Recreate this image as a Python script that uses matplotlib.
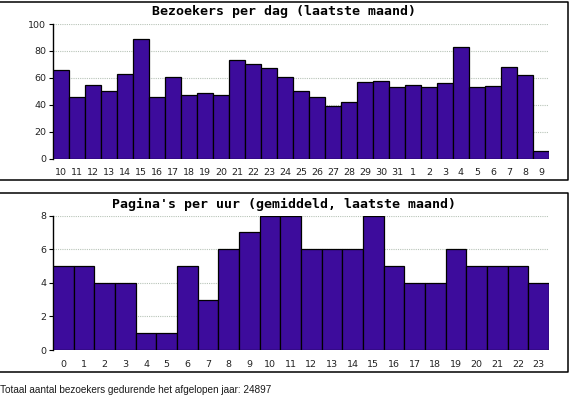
import matplotlib
matplotlib.use("Agg")
import matplotlib.pyplot as plt
from matplotlib.lines import Line2D

days = ["10","11","12","13","14","15","16","17","18","19","20","21","22","23","24",
        "25","26","27","28","29","30","31","1","2","3","4","5","6","7","8","9"]
visitors = [66,46,55,50,63,89,46,61,47,49,47,73,70,67,61,
            50,46,39,42,57,58,53,55,53,56,83,53,54,68,62,6]
hours = [str(h) for h in range(24)]
pages = [5,5,4,4,1,1,5,3,6,7,8,8,6,6,6,8,5,4,4,6,5,5,5,4]

title1 = "Bezoekers per dag (laatste maand)"
title2 = "Pagina's per uur (gemiddeld, laatste maand)"
footer = "Totaal aantal bezoekers gedurende het afgelopen jaar: 24897"

W, H = 571, 399
fig = plt.figure(figsize=(W/100, H/100), dpi=100)
fig.patch.set_facecolor("white")

bar_color = "#3d0c9c"

def px_axes(left, top, right, bottom):
    return fig.add_axes([left/W, 1-bottom/H, (right-left)/W, (bottom-top)/H])

def style(ax, labels, values, ymax, step, title, title_y):
    x = list(range(len(values)))
    ax.bar(x, values, width=1.0, color=bar_color, edgecolor="black", linewidth=0.9, zorder=3)
    ax.set_xlim(-0.5, len(values)-0.5)
    ax.set_ylim(0, ymax)
    ax.set_xticks(x)
    ax.set_xticklabels(labels, fontsize=6.8, family="DejaVu Sans", color="#222222")
    ax.set_yticks(list(range(0, ymax+1, step)))
    ax.tick_params(axis="x", length=0, pad=7)
    ax.tick_params(axis="y", length=3, width=0.8, labelsize=6.8, pad=2, labelcolor="#222222")
    for s in ["top", "right", "bottom"]:
        ax.spines[s].set_visible(False)
    ax.spines["left"].set_linewidth(1.0)
    ax.yaxis.grid(True, linestyle=(0, (1, 1)), color="#b8c4b8", linewidth=0.8, zorder=0)
    ax.set_axisbelow(True)
    fig.text(284/W, 1-title_y/H, title, ha="center", va="center",
             family="DejaVu Sans Mono", fontweight="bold", fontsize=9.5)

ax1 = px_axes(53, 24, 549, 158.7)
style(ax1, days, visitors, 100, 20, title1, 12)
ax2 = px_axes(53, 215.7, 549, 350)
style(ax2, hours, pages, 8, 2, title2, 204)

def fline(xs, ys):
    fig.add_artist(Line2D([x/W for x in xs], [1-y/H for y in ys], color="black",
                          linewidth=1.1, transform=fig.transFigure))

# panel borders
fline([0, 567.5, 567.5, 0], [1.5, 1.5, 180, 180])
fline([0, 567.5, 567.5, 0], [193, 193, 372, 372])

fig.text(0, 1-390/H, footer, ha="left", va="center", family="Liberation Sans",
         fontsize=7.2, color="#1a1a1a")

fig.savefig("out.png", dpi=100, facecolor="white")
